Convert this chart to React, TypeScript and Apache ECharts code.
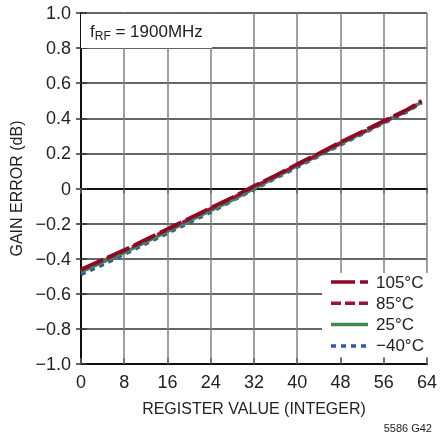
import React, { useEffect, useRef } from "react";
import * as echarts from "echarts";

const xValues = [0, 4, 8, 12, 16, 20, 24, 28, 32, 36, 40, 44, 48, 52, 56, 60, 63];
const s105 = [-0.46, -0.405, -0.35, -0.29, -0.23, -0.17, -0.11, -0.05, 0.015, 0.075, 0.14, 0.2, 0.265, 0.325, 0.385, 0.445, 0.5];
const s85 = [-0.465, -0.41, -0.355, -0.295, -0.235, -0.175, -0.115, -0.055, 0.01, 0.07, 0.135, 0.195, 0.26, 0.32, 0.38, 0.44, 0.495];
const s25 = [-0.475, -0.42, -0.365, -0.305, -0.245, -0.185, -0.125, -0.065, 0.0, 0.065, 0.13, 0.19, 0.255, 0.315, 0.378, 0.438, 0.493];
const sm40 = [-0.49, -0.435, -0.375, -0.315, -0.255, -0.195, -0.135, -0.07, -0.005, 0.058, 0.122, 0.185, 0.248, 0.31, 0.372, 0.432, 0.488];
const seriesNames = ["105°C", "85°C", "25°C", "\u221240°C"];
const seriesColors = ["#8a0a28", "#a0103a", "#3d8a50", "#3355aa"];
const seriesDash: any[] = [[24, 5], [10, 4], "solid", [5, 5]];

const FONT = "'Liberation Sans Narrow', 'Liberation Sans', Arial, sans-serif";
const fmtY = (v: number) => (Math.abs(v) < 1e-9 ? "0" : v < 0 ? "\u2212" + Math.abs(v).toFixed(1) : v.toFixed(1));

export default function App() {
  const ref = useRef<HTMLDivElement>(null);
  useEffect(() => {
    const chart = echarts.init(ref.current!, null, { renderer: "svg" });
    const mk = (arr: number[]) => xValues.map((x, i) => [x, arr[i]]);
    const line = (idx: number, data: number[], z: number) => ({
      name: seriesNames[idx],
      type: "line",
      data: mk(data),
      showSymbol: false,
      symbol: "none",
      z,
      lineStyle: { color: seriesColors[idx], width: 3.5, type: seriesDash[idx] },
      itemStyle: { color: seriesColors[idx] },
    });
    const legendItems: any[] = [];
    seriesNames.forEach((n, i) => {
      const y = 282 + i * 21.3;
      legendItems.push({
        type: "line", z: 21,
        shape: { x1: 331, y1: y, x2: 368, y2: y },
        style: { stroke: seriesColors[i], lineWidth: 3.5, lineDash: seriesDash[i] === "solid" ? null : seriesDash[i] },
      });
      legendItems.push({
        type: "text", z: 21, x: 376, y: y,
        style: { text: n, fontFamily: FONT, fontSize: 17, fill: "#222", verticalAlign: "middle", align: "left" },
      });
    });
    chart.setOption({
      animation: false,
      grid: { left: 80, right: 8, top: 13, bottom: 71, show: false },
      xAxis: [
        {
          type: "value", min: 0, max: 64, interval: 8,
          axisLine: { show: true, onZero: false, lineStyle: { color: "#111", width: 2 } },
          axisTick: { show: true, inside: true, length: 6, lineStyle: { color: "#666", width: 1.5 } },
          axisLabel: { color: "#222", fontFamily: FONT, fontSize: 18, margin: 9 },
          splitLine: { show: true, lineStyle: { color: "#808080", width: 1.5 } },
          name: "REGISTER VALUE (INTEGER)", nameLocation: "middle", nameGap: 36,
          nameTextStyle: { color: "#222", fontFamily: FONT, fontSize: 16 },
        },
        {
          type: "value", min: 0, max: 64, interval: 8, position: "top",
          axisLine: { show: true, lineStyle: { color: "#111", width: 2 } },
          axisTick: { show: true, inside: true, length: 5, lineStyle: { color: "#666", width: 1.5 } },
          axisLabel: { show: false }, splitLine: { show: false },
        },
      ],
      yAxis: [
        {
          type: "value", min: -1, max: 1, interval: 0.2,
          axisLine: { show: true, onZero: false, lineStyle: { color: "#111", width: 2 } },
          axisTick: { show: true, inside: true, length: 6, lineStyle: { color: "#333", width: 1.5 } },
          axisLabel: { color: "#222", fontFamily: FONT, fontSize: 18, margin: 10, formatter: fmtY },
          splitLine: { show: true, lineStyle: { color: "#333", width: 1.5 } },
          name: "GAIN ERROR (dB)", nameLocation: "middle", nameGap: 57, nameRotate: 90,
          nameTextStyle: { color: "#222", fontFamily: FONT, fontSize: 16 },
        },
        {
          type: "value", min: -1, max: 1, interval: 0.2, position: "right",
          axisLine: { show: true, lineStyle: { color: "#111", width: 2 } },
          axisTick: { show: true, inside: true, length: 5, lineStyle: { color: "#333", width: 1.5 } },
          axisLabel: { show: false }, splitLine: { show: false },
        },
      ],
      graphic: [
        {
          type: "rect", z: 10,
          shape: { x: 81, y: 14, width: 131, height: 34 },
          style: { fill: "#fff" },
        },
        {
          type: "text", z: 11, x: 90, y: 31,
          style: {
            text: "{f|f}{s|RF}{f| = 1900MHz}",
            verticalAlign: "middle",
            rich: {
              f: { fontFamily: FONT, fontSize: 17, fill: "#222" },
              s: { fontFamily: FONT, fontSize: 12, fill: "#222", padding: [9, 0, 0, 0] },
            },
          },
        },
        {
          type: "rect", z: 20,
          shape: { x: 322, y: 273, width: 109, height: 84 },
          style: { fill: "#fff" },
        },
        ...legendItems,
        {
          type: "text", x: 432, y: 428,
          style: { text: "5586 G42", fontFamily: FONT, fontSize: 11, fill: "#222", align: "right", verticalAlign: "middle" },
        },
      ],
      series: [
        line(3, sm40, 3),
        line(2, s25, 4),
        line(1, s85, 5),
        line(0, s105, 6),
      ],
    });
    return () => chart.dispose();
  }, []);
  return <div ref={ref} style={{ position: "fixed", left: 0, top: 0, width: 440, height: 435 }} />;
}
